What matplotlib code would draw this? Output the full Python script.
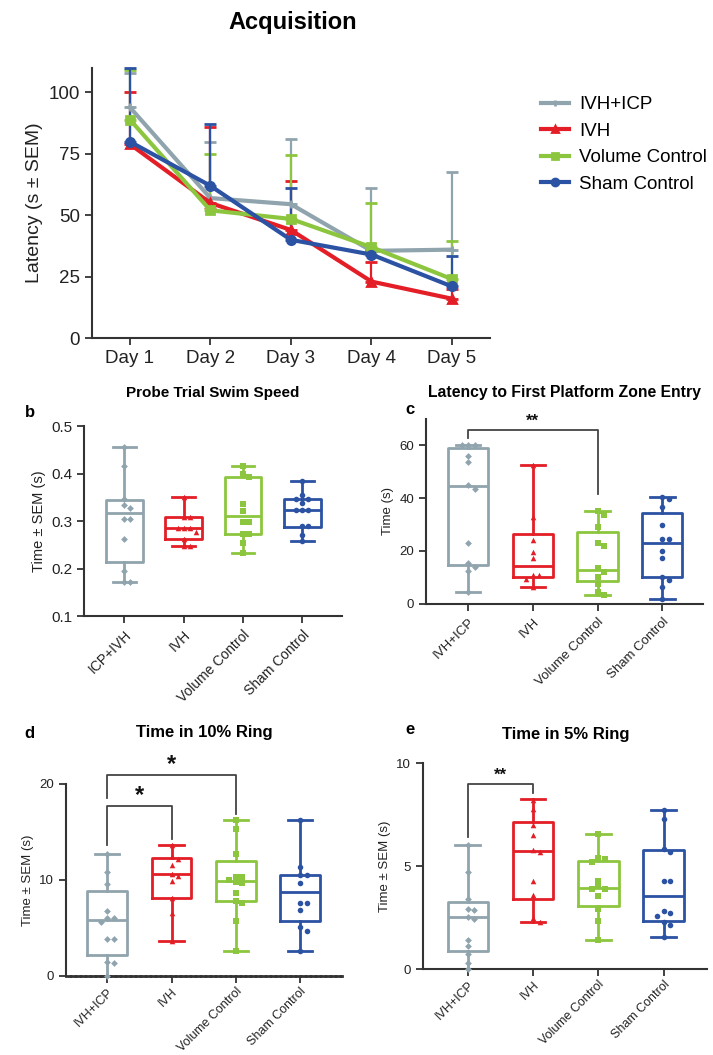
import numpy as np
import matplotlib
matplotlib.use('Agg')
import matplotlib.pyplot as plt
from matplotlib.lines import Line2D

plt.rcParams['font.family'] = ['Liberation Sans', 'DejaVu Sans']

# colours / groups
groups = ['IVH+ICP', 'IVH', 'Volume Control', 'Sham Control']
colors = ['#90A4AE', '#E41E26', '#8CC63F', '#2B52A3']
line_markers = ['+', '^', 's', 'o']
pt_markers = ['D', '^', 's', 'o']
axis_col = '#333333'

# ---- panel a: acquisition latency (mean and upper SEM bar)
days = [1, 2, 3, 4, 5]
day_labels = ['Day 1', 'Day 2', 'Day 3', 'Day 4', 'Day 5']
acq_mean = {
    'IVH+ICP': [94, 57, 54.5, 35.5, 36],
    'IVH': [79, 55, 44, 23, 16],
    'Volume Control': [89, 52, 48.5, 37, 24],
    'Sham Control': [80, 62, 40, 34, 21],
}
acq_upper = {
    'IVH+ICP': [108, 80, 81, 61, 67.5],
    'IVH': [100, 86, 64, 31, 20],
    'Volume Control': [109, 75, 74.5, 55, 39.5],
    'Sham Control': [110, 87, 61, 36, 33.5],
}

# ---- panel b: probe trial swim speed  (whislo, q1, med, q3, whishi)
swim_stats = [
    [0.172, 0.214, 0.316, 0.345, 0.457],
    [0.247, 0.262, 0.285, 0.308, 0.350],
    [0.232, 0.272, 0.310, 0.393, 0.416],
    [0.258, 0.287, 0.323, 0.346, 0.385],
]
swim_points = [
    [0.457, 0.415, 0.347, 0.334, 0.327, 0.305, 0.305, 0.263, 0.195, 0.172, 0.172],
    [0.350, 0.308, 0.308, 0.285, 0.285, 0.285, 0.276, 0.262, 0.247, 0.247],
    [0.416, 0.400, 0.393, 0.335, 0.322, 0.297, 0.297, 0.272, 0.272, 0.254, 0.232],
    [0.385, 0.355, 0.347, 0.347, 0.339, 0.323, 0.323, 0.323, 0.290, 0.290, 0.270, 0.258],
]
swim_labels = ['ICP+IVH', 'IVH', 'Volume Control', 'Sham Control']

# ---- panel c: latency to first platform zone entry
lat_stats = [
    [4.5, 14.8, 44.5, 58.8, 60],
    [6.5, 10, 14.5, 26.5, 52.5],
    [3.5, 8.5, 12.8, 27, 35],
    [2, 10, 23, 34.5, 40.5],
]
lat_points = [
    [60, 60, 60, 56, 53.5, 45, 43.5, 23, 15.5, 14, 12.5, 4.5],
    [52.5, 33, 24, 19.5, 17.5, 11, 11, 9.5, 6.5],
    [35, 33.5, 29, 23, 22, 13.5, 12, 10, 7.5, 4.5, 3.5],
    [40.5, 39.5, 36.5, 30, 24.5, 24.5, 20, 17.5, 10, 9, 6.5, 2],
]

# ---- panel d: time in 10% ring
ring10_stats = [
    [0, 2.2, 5.8, 8.8, 12.7],
    [3.6, 8.1, 10.6, 12.3, 13.6],
    [2.6, 7.8, 9.9, 12.0, 16.2],
    [2.6, 5.7, 8.7, 10.5, 16.2],
]
ring10_points = [
    [12.7, 10.8, 9.6, 6.8, 6.0, 6.0, 5.6, 3.8, 3.8, 1.5, 1.4, 0],
    [13.6, 12.5, 12.2, 11.6, 10.6, 10.4, 9.9, 8.1, 6.6, 3.6],
    [16.2, 15.3, 12.7, 10.3, 10.3, 10.0, 9.8, 9.7, 8.6, 7.8, 7.6, 5.7, 2.6],
    [16.2, 11.3, 10.5, 10.5, 9.7, 7.6, 7.6, 6.9, 5.1, 4.7, 2.6],
]

# ---- panel e: time in 5% ring
ring5_stats = [
    [0, 0.9, 2.55, 3.25, 6.05],
    [2.3, 3.4, 5.75, 7.15, 8.25],
    [1.4, 3.05, 3.95, 5.25, 6.55],
    [1.55, 2.35, 3.55, 5.8, 7.75],
]
ring5_points = [
    [6.05, 4.7, 3.4, 2.9, 2.85, 2.55, 2.45, 1.4, 1.1, 0.75, 0.3, 0],
    [8.2, 7.8, 7.0, 6.5, 5.8, 5.7, 4.3, 3.6, 2.5, 2.3],
    [6.55, 5.4, 5.35, 5.2, 4.3, 4.05, 3.9, 3.9, 3.55, 2.9, 2.35, 1.4],
    [7.75, 7.3, 5.85, 5.7, 4.3, 4.3, 2.8, 2.7, 2.6, 2.3, 2.15, 1.55],
]


def swarm(vals, tol, step=0.1):
    # simple beeswarm: place each point at the first free horizontal slot
    placed = []
    offs = []
    for v in vals:
        k = 0
        while True:
            cand = 0 if k == 0 else ((k + 1) // 2) * step * (1 if k % 2 else -1)
            if all(abs(v - pv) >= tol or abs(cand - po) >= step * 0.9 for pv, po in placed):
                break
            k += 1
        placed.append((v, cand))
        offs.append(cand)
    return np.array(offs)


def style_axis(ax, fs):
    for s in ['top', 'right']:
        ax.spines[s].set_visible(False)
    for s in ['left', 'bottom']:
        ax.spines[s].set_color(axis_col)
        ax.spines[s].set_linewidth(1.5)
    ax.tick_params(direction='out', length=5, width=1.3, color=axis_col,
                   labelsize=fs, labelcolor='#222222')


def box_panel(ax, stats, points, ylim, tol):
    for i, (st, pts) in enumerate(zip(stats, points)):
        c = colors[i]
        d = dict(whislo=st[0], q1=st[1], med=st[2], q3=st[3], whishi=st[4], fliers=[])
        lp = dict(color=c, linewidth=2.0)
        ax.bxp([d], positions=[i + 1], widths=0.62, capwidths=0.38, showfliers=False,
               boxprops=lp, whiskerprops=lp, capprops=lp, medianprops=lp)
        offs = swarm(pts, tol)
        ax.scatter(i + 1 + offs, pts, marker=pt_markers[i], s=16 if i else 12,
                   color=c, zorder=3, linewidths=0, clip_on=False)
    ax.set_ylim(*ylim)


def bracket(ax, x1, x2, y, y1, y2, star, sy, fs=13):
    ax.plot([x1, x1, x2, x2], [y1, y, y, y2], color='#444444', lw=1.3, clip_on=False)
    ax.text((x1 + x2) / 2, sy, star, ha='center', va='center', fontsize=fs,
            fontweight='bold', color='#111111')


fig = plt.figure(figsize=(7.13, 10.55), dpi=100)

# panel a
ax = fig.add_axes([0.129, 0.6796, 0.558, 0.256])
for g, c, m in zip(groups, colors, line_markers):
    mean = np.array(acq_mean[g])
    up = np.array(acq_upper[g])
    ax.errorbar(days, mean, yerr=[np.zeros(5), up - mean], color=c, lw=3,
                marker=m, ms=6, mew=2, capsize=4, capthick=2.5, elinewidth=1.6,
                clip_on=False)
ax.set_xlim(0.53, 5.47)
ax.set_ylim(0, 110)
ax.set_xticks(days)
ax.set_xticklabels(day_labels)
ax.set_yticks([0, 25, 50, 75, 100])
style_axis(ax, 13.5)
ax.set_ylabel('Latency (s ± SEM)', fontsize=14, color='#222222')
handles = [Line2D([], [], color=c, lw=3, marker=m, ms=5, mew=2)
           for c, m in zip(colors, line_markers)]
fig.legend(handles, groups, loc='upper left',
           bbox_to_anchor=(0.735, 0.925), frameon=False, fontsize=13.5,
           handlelength=1.5, labelspacing=0.5, handletextpad=0.55)
fig.text(0.411, 1 - 22 / 1055, 'Acquisition', ha='center', va='center',
         fontsize=17, fontweight='bold')

# panel b
ax = fig.add_axes([0.118, 0.4161, 0.362, 0.180])
box_panel(ax, swim_stats, swim_points, (0.1, 0.5), 0.012)
ax.set_xlim(0.325, 4.67)
ax.set_yticks([0.1, 0.2, 0.3, 0.4, 0.5])
ax.set_xticks([1, 2, 3, 4])
ax.set_xticklabels(swim_labels, rotation=45, ha='right', rotation_mode='anchor')
style_axis(ax, 11)
ax.tick_params(axis='x', labelsize=10)
ax.set_ylabel('Time ± SEM (s)', fontsize=10.5, color='#222222')
fig.text(0.299, 1 - 393 / 1055, 'Probe Trial Swim Speed', ha='center', va='center',
         fontsize=11, fontweight='bold')
fig.text(0.042, 1 - 413 / 1055, 'b', ha='center', va='center', fontsize=12, fontweight='bold')

# panel c
ax = fig.add_axes([0.5975, 0.4275, 0.3885, 0.1758])
box_panel(ax, lat_stats, lat_points, (0, 70), 1.6)
ax.set_xlim(0.35, 4.63)
ax.set_yticks([0, 20, 40, 60])
ax.set_xticks([1, 2, 3, 4])
ax.set_xticklabels(groups, rotation=45, ha='right', rotation_mode='anchor')
style_axis(ax, 9.5)
ax.set_ylabel('Time (s)', fontsize=9.5, color='#222222')
bracket(ax, 1, 3, 65.6, 62.5, 41.5, '**', 68.8, fs=12)
fig.text(0.792, 1 - 392 / 1055, 'Latency to First Platform Zone Entry', ha='center',
         va='center', fontsize=11.3, fontweight='bold')
fig.text(0.575, 1 - 409 / 1055, 'c', ha='center', va='center', fontsize=12, fontweight='bold')

# panel d
ax = fig.add_axes([0.0926, 0.0749, 0.387, 0.182])
box_panel(ax, ring10_stats, ring10_points, (0, 20), 0.45)
ax.set_xlim(0.36, 4.65)
ax.set_yticks([0, 10, 20])
ax.set_xticks([1, 2, 3, 4])
ax.set_xticklabels(groups, rotation=45, ha='right', rotation_mode='anchor')
style_axis(ax, 9.5)
ax.tick_params(axis='x', labelsize=9, pad=2)
ax.spines['bottom'].set_linestyle((0, (1.2, 0.6)))
ax.spines['bottom'].set_linewidth(2)
ax.set_ylabel('Time ± SEM (s)', fontsize=9.5, color='#222222')
bracket(ax, 1, 2, 17.7, 13.6, 14.3, '*', 18.8, fs=17)
bracket(ax, 1, 3, 20.9, 18.5, 16.9, '*', 22.0, fs=17)
fig.text(0.287, 1 - 733 / 1055, 'Time in 10% Ring', ha='center', va='center',
         fontsize=12, fontweight='bold')
fig.text(0.041, 1 - 733 / 1055, 'd', ha='center', va='center', fontsize=12, fontweight='bold')

# panel e
ax = fig.add_axes([0.593, 0.0815, 0.398, 0.195])
box_panel(ax, ring5_stats, ring5_points, (0, 10), 0.22)
ax.set_xlim(0.31, 4.66)
ax.set_yticks([0, 5, 10])
ax.set_xticks([1, 2, 3, 4])
ax.set_xticklabels(groups, rotation=45, ha='right', rotation_mode='anchor')
style_axis(ax, 9.5)
ax.tick_params(axis='x', labelsize=9, pad=2)
ax.set_ylabel('Time ± SEM (s)', fontsize=9.5, color='#222222')
bracket(ax, 1, 2, 8.98, 6.44, 8.58, '**', 9.43, fs=12)
fig.text(0.793, 1 - 735 / 1055, 'Time in 5% Ring', ha='center', va='center',
         fontsize=12, fontweight='bold')
fig.text(0.575, 1 - 730 / 1055, 'e', ha='center', va='center', fontsize=12, fontweight='bold')

fig.savefig('out.png', dpi=100)
